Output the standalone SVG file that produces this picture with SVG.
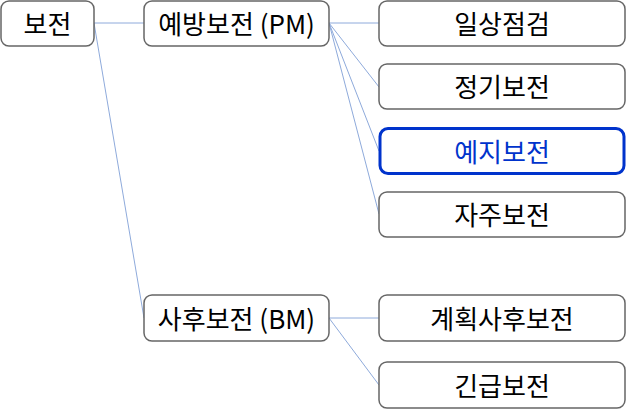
<svg xmlns="http://www.w3.org/2000/svg" width="626" height="414" viewBox="0 0 626 414">
<style>
.box{fill:#fff;stroke:#666;stroke-width:1.5}
.hl{fill:#fff;stroke:#0033cc;stroke-width:3}
text{font-family:"Noto Sans CJK KR","Noto Sans",sans-serif;font-size:26px;fill:#000;text-anchor:middle;dominant-baseline:central}
.blue{fill:#0033cc}
.c{stroke:#8eaadb;stroke-width:1;fill:none}
</style>
<rect width="626" height="414" fill="#fff"/>
<g id="connectors">
<line class="c" x1="94" y1="23" x2="144" y2="23"/>
<line class="c" x1="94" y1="23" x2="144" y2="318"/>
<line class="c" x1="329" y1="23" x2="379" y2="23"/>
<line class="c" x1="329" y1="23" x2="379" y2="87"/>
<line class="c" x1="329" y1="23" x2="379" y2="151"/>
<line class="c" x1="329" y1="23" x2="379" y2="214"/>
<line class="c" x1="329" y1="318" x2="379" y2="318"/>
<line class="c" x1="329" y1="318" x2="379" y2="385"/>
</g>
<g id="n-root"><rect class="box" x="1" y="1" width="93" height="45" rx="8"/><text x="47.5" y="22">보전</text></g>
<g id="n-pm"><rect class="box" x="144" y="1" width="185" height="45" rx="8"/><text x="236.5" y="22">예방보전 (PM)</text></g>
<g id="n-daily"><rect class="box" x="379" y="1" width="246" height="45" rx="8"/><text x="502" y="22">일상점검</text></g>
<g id="n-periodic"><rect class="box" x="379" y="64" width="246" height="45" rx="8"/><text x="502" y="85.5">정기보전</text></g>
<g id="n-predictive"><rect class="hl" x="380" y="128.5" width="244" height="45" rx="8"/><text class="blue" x="502" y="150">예지보전</text></g>
<g id="n-autonomous"><rect class="box" x="379" y="192" width="246" height="45" rx="8"/><text x="502" y="213.5">자주보전</text></g>
<g id="n-bm"><rect class="box" x="144" y="295" width="185" height="46" rx="8"/><text x="236.5" y="317">사후보전 (BM)</text></g>
<g id="n-planned"><rect class="box" x="379" y="295" width="246" height="46" rx="8"/><text x="502" y="317">계획사후보전</text></g>
<g id="n-emergency"><rect class="box" x="379" y="362" width="246" height="46" rx="8"/><text x="502" y="384">긴급보전</text></g>
</svg>
